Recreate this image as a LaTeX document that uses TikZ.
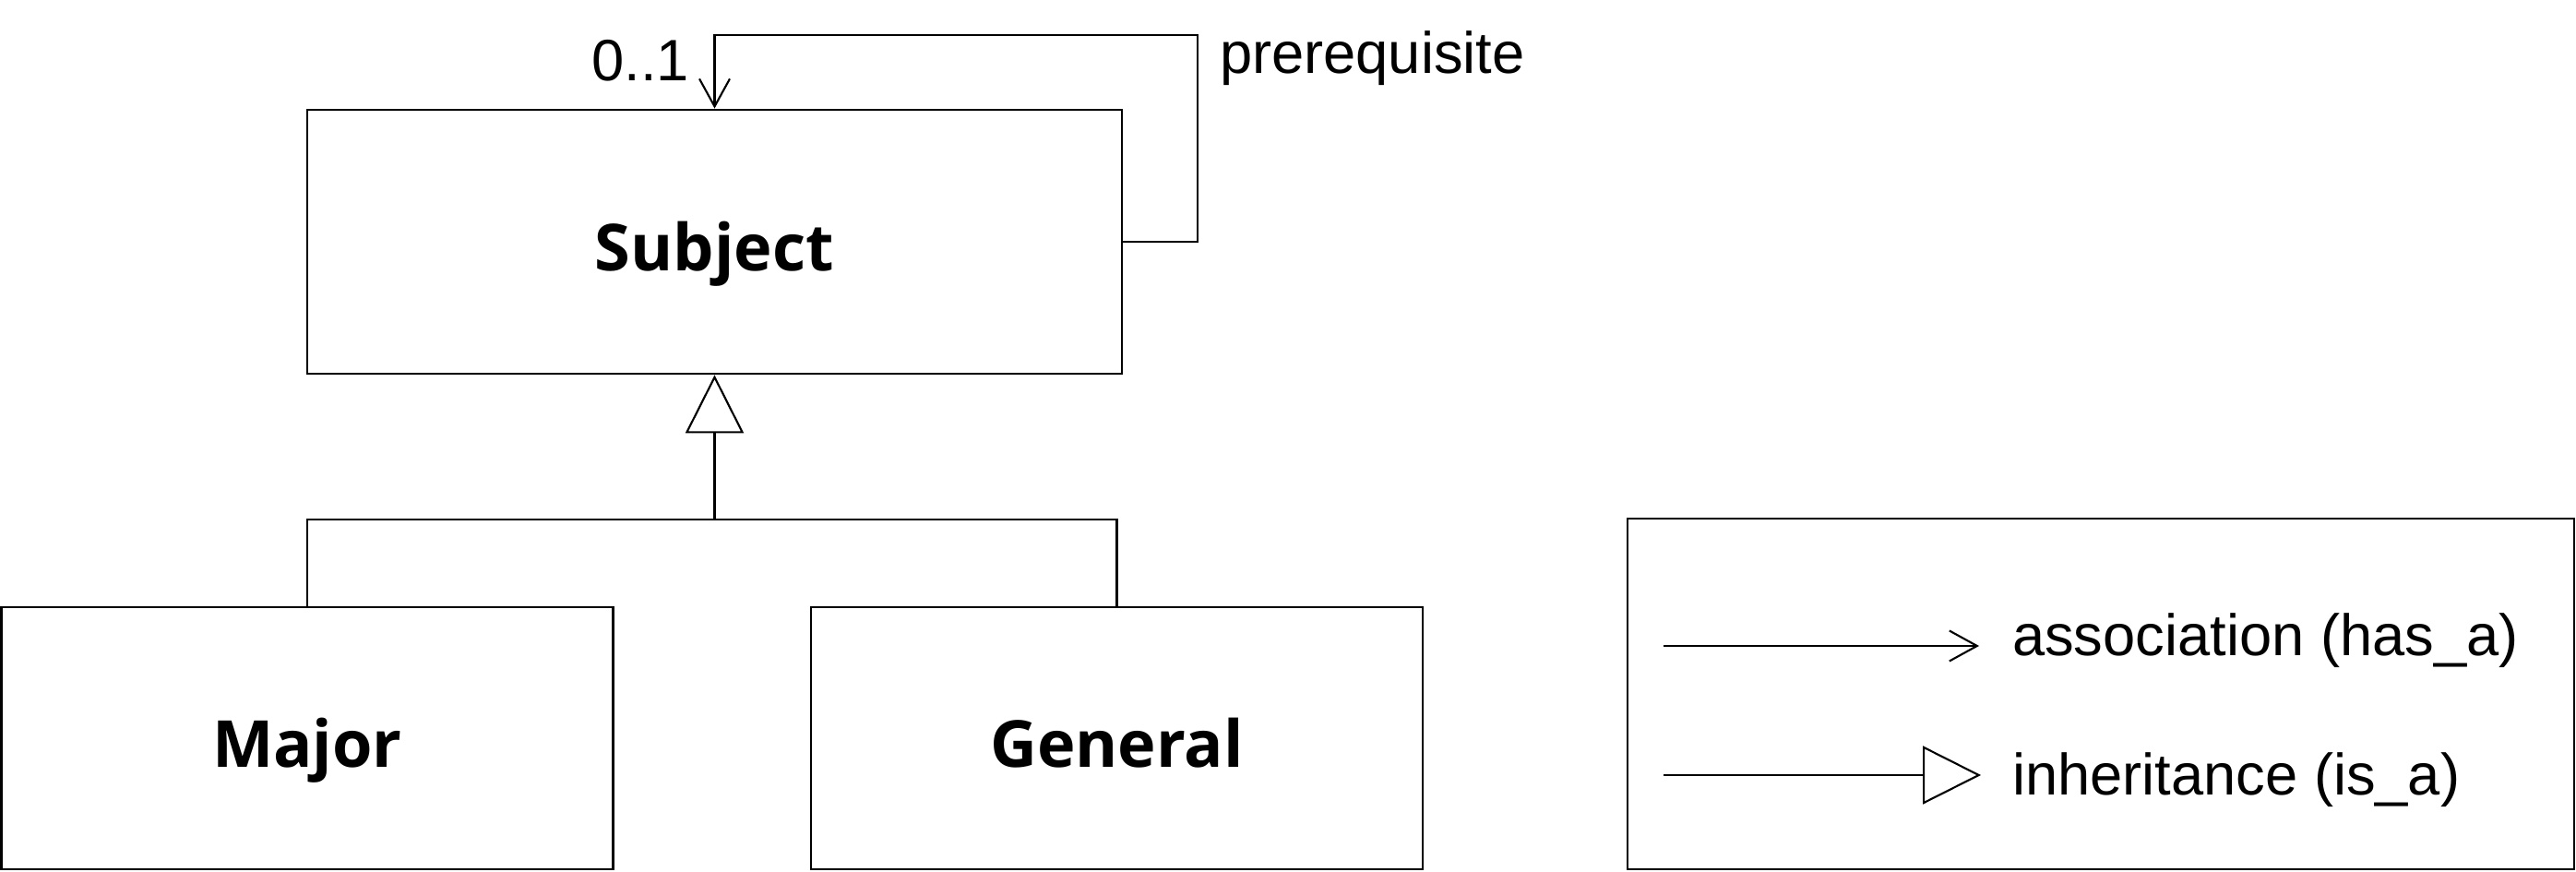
\documentclass[tikz,border=0pt]{standalone}
\usepackage{fontspec}
\setmainfont{Liberation Sans}
\newfontfamily\classfont{Open Sans}
\usetikzlibrary{arrows.meta, positioning}

\begin{document}
\begin{tikzpicture}[auto, >={Straight Barb[length=3mm, width=3.3mm]}, line width=0.6pt, font=\fontsize{18}{21}\selectfont]
\tikzstyle{class} = [draw=black, rectangle, line width=0.8pt, minimum height=2.84cm, text height=0.64cm, text depth=0pt, font=\classfont\bfseries\fontsize{20}{24}\selectfont]
\tikzstyle{frame} = [draw=black, rectangle, line width=0.8pt]
\tikzstyle{invis} = [draw=none, inner sep=0pt]
\tikzstyle{isa} = [-{Triangle[open, length=6.3mm, width=6.3mm]}]

\useasboundingbox (0, 0) rectangle (27.92, 9.45);

\node[class, minimum width=8.83cm, minimum height=2.86cm]	at (7.745, 6.83)	(subj)	{Subject};
\node[class, minimum width=6.625cm]		at (3.33, 1.45)		(major)	{Major};
\node[class, minimum width=6.63cm]		at (12.105, 1.45)	(gen)	{General};
\node[frame, minimum width=10.26cm, minimum height=3.8cm]	at (22.77, 1.93)	(legend)	{};

% self association
\coordinate (loop) at (12.98, 9.07);
\draw[->] (subj.east) -| (loop) -| (subj.north);
\node[invis, anchor=base east]	at (7.48, 8.57)		(mult)	{0..1};
\node[invis, anchor=base west]	at (13.21, 8.65)	(role)	{prerequisite};

% inheritance
\coordinate (join) at (7.745, 3.82);
\draw[isa] (join) -- (subj.south);
\draw (major.north) |- (join) -| (gen.north);

% legend
\coordinate (a0) at (18.03, 2.45);
\coordinate (a1) at (21.45, 2.45);
\coordinate (i0) at (18.03, 1.05);
\coordinate (i1) at (21.47, 1.05);
\node[invis, anchor=base west]	at (21.8, 2.34)		(assoc)	{association (has\_a)};
\node[invis, anchor=base west]	at (21.8, 0.83)		(inher)	{inheritance (is\_a)};

\path[->]
(a0)	edge	node	{}	(a1);
\path[isa]
(i0)	edge	node	{}	(i1);
\end{tikzpicture}
\end{document}
